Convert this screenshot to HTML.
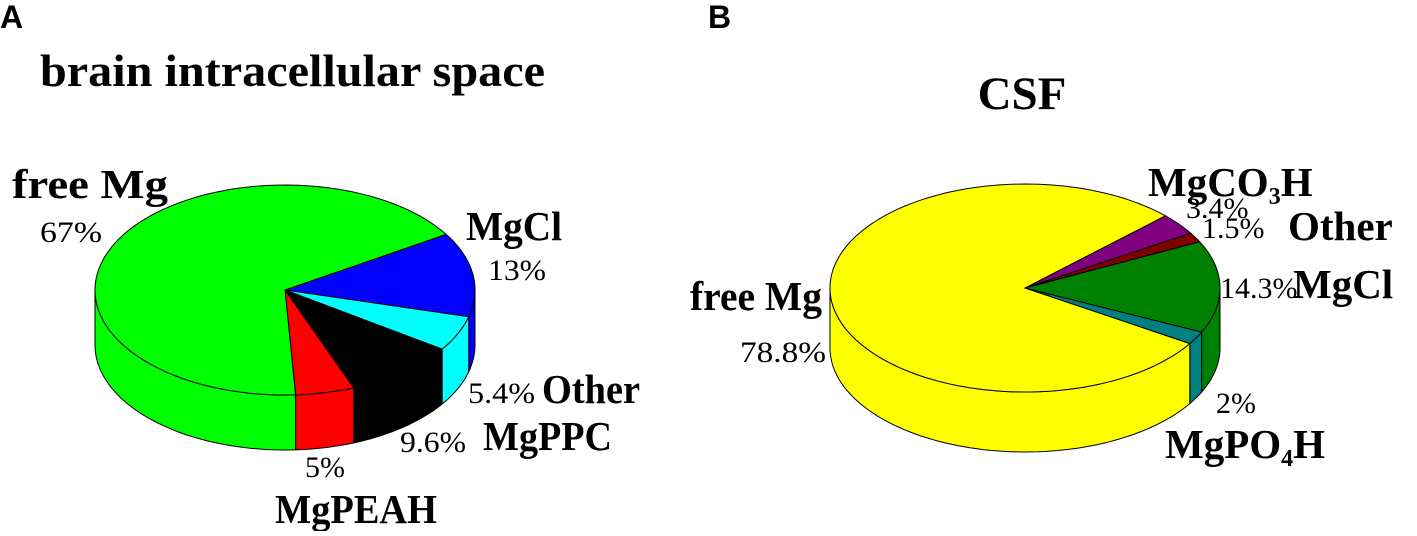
<!DOCTYPE html>
<html><head><meta charset="utf-8"><style>
body{margin:0;background:#fff;}
svg text{font-family:"Liberation Serif",serif;}
.b{font-weight:bold;font-size:41px;}
.p{font-size:30px;}
</style></head><body>
<svg id="chart" width="1417" height="531" viewBox="0 0 1417 531">
<text x="0" y="28" style="font-family:'Liberation Sans',sans-serif;font-weight:bold;font-size:32px">A</text>
<text x="708" y="28" style="font-family:'Liberation Sans',sans-serif;font-weight:bold;font-size:32px">B</text>
<text x="40" y="86" class="b" style="font-size:46px" textLength="505" lengthAdjust="spacingAndGlyphs">brain intracellular space</text>
<text x="1022" y="109" class="b" text-anchor="middle" style="font-size:47px">CSF</text>
<g id="pieA"></g>
<g id="pieB"></g>
<text x="12" y="198" class="b" textLength="156" lengthAdjust="spacingAndGlyphs">free Mg</text>
<text x="40" y="242" class="p" textLength="62" lengthAdjust="spacingAndGlyphs">67%</text>
<text x="466" y="240" class="b" textLength="96" lengthAdjust="spacingAndGlyphs">MgCl</text>
<text x="488" y="280" class="p" textLength="58" lengthAdjust="spacingAndGlyphs">13%</text>
<text x="468" y="403" class="p" textLength="67" lengthAdjust="spacingAndGlyphs">5.4%</text>
<text x="542" y="403" class="b" textLength="98" lengthAdjust="spacingAndGlyphs">Other</text>
<text x="400" y="452" class="p" textLength="66" lengthAdjust="spacingAndGlyphs">9.6%</text>
<text x="483" y="450" class="b" textLength="129" lengthAdjust="spacingAndGlyphs">MgPPC</text>
<text x="305" y="477" class="p">5%</text>
<text x="275" y="523" class="b" textLength="162" lengthAdjust="spacingAndGlyphs">MgPEAH</text>
<text x="1148" y="196" class="b">MgCO<tspan dy="8" font-size="24">3</tspan><tspan dy="-8">H</tspan></text>
<text x="1186" y="218" class="p">3.4%</text>
<text x="1202" y="238" class="p">1.5%</text>
<text x="1288" y="240" class="b">Other</text>
<text x="1220" y="298" class="p">14.3%</text>
<text x="1293" y="298" class="b">MgCl</text>
<text x="690" y="310" class="b" textLength="132" lengthAdjust="spacingAndGlyphs">free Mg</text>
<text x="740" y="362" class="p" textLength="86" lengthAdjust="spacingAndGlyphs">78.8%</text>
<text x="1216" y="413" class="p">2%</text>
<text x="1165" y="458" class="b">MgPO<tspan dy="8" font-size="24">4</tspan><tspan dy="-8">H</tspan></text>
</svg>
<script>
const namesA=["mgcl","other","mgppc","mgpeah","free-mg"];
const valuesA=[13,5.4,9.6,5,67];
const colorsA=["#0000ff","#00ffff","#000000","#ff0000","#00ff00"];
const namesB=["mgco3h","other","mgcl","mgpo4h","free-mg"];
const valuesB=[3.4,1.5,14.3,2,78.8];
const colorsB=["#800080","#800000","#008000","#008080","#ffff00"];
const NS="http://www.w3.org/2000/svg";
function pt(c,t){return [c.cx+c.rx*Math.cos(t*Math.PI/180),c.cy+c.ry*Math.sin(t*Math.PI/180)];}
function mk(g,d,fill,nm){const p=document.createElementNS(NS,"path");p.setAttribute("d",d);p.setAttribute("fill",fill);p.setAttribute("stroke","#000");p.setAttribute("stroke-width","1");


g.appendChild(p);}
function arc(c,a,b,dy){let s="";const n=Math.max(2,Math.ceil(Math.abs(b-a)/2));for(let i=0;i<=n;i++){const t=a+(b-a)*i/n;const q=pt(c,t);s+=(i?"L":"")+q[0].toFixed(1)+","+(q[1]+dy).toFixed(1);}return s;}
function drawPie(id,c,names,vals,cols){const g=document.getElementById(id);const tot=vals.reduce((x,y)=>x+y,0);
let a=c.start;const segs=[];vals.forEach((v,i)=>{const b=a+v/tot*360;segs.push([a,b]);a=b;});
segs.forEach(([a,b],i)=>{for(const off of [0,360,-360]){const lo=Math.max(a+off,0),hi=Math.min(b+off,180);if(hi>lo){
const d="M"+arc(c,lo,hi,0)+"L"+arc(c,hi,lo,c.depth)+"Z";mk(g,d,cols[i],"side-"+names[i]);}}});
segs.forEach(([a,b],i)=>{const d="M"+c.cx+","+c.cy+"L"+arc(c,a,b,0)+"Z";mk(g,d,cols[i],"slice-"+names[i]);});}
drawPie("pieA",{cx:285,cy:290,rx:190,ry:105,depth:55,start:-32},namesA,valuesA,colorsA);
drawPie("pieB",{cx:1025,cy:288,rx:195,ry:104,depth:60,start:-44},namesB,valuesB,colorsB);
</script>
</body></html>
